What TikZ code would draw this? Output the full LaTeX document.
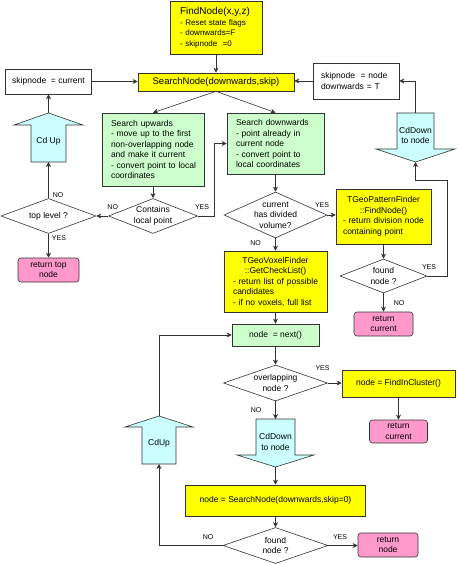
\documentclass[tikz,border=0pt]{standalone}
\usepackage{fontspec}
\setmainfont{Liberation Sans}
\usetikzlibrary{arrows.meta,shapes.geometric}
\definecolor{cyel}{HTML}{FFFF00}
\definecolor{cgrn}{HTML}{CCFFCC}
\definecolor{ccya}{HTML}{CCFFFF}
\definecolor{cpnk}{HTML}{FF99CC}
\definecolor{cline}{HTML}{333333}
\newcommand\myline[1]{\mbox{#1}}
\newcommand\mycline[1]{\makebox[\linewidth]{#1}}
\begin{document}
\begin{tikzpicture}[x=1pt,y=-1pt,
  every node/.style={font=\fontsize{8.5}{10.5}\selectfont},
  base/.style={draw=cline, line width=0.6pt, rectangle, inner sep=0pt, align=center},
  ybox/.style={base, fill=cyel},
  gbox/.style={base, fill=cgrn},
  pbox/.style={base, fill=cpnk, rounded corners=3pt},
  wbox/.style={base, fill=white},
  dia/.style={draw=cline, line width=0.6pt, fill=white, diamond, inner sep=0pt},
  arrshape/.style={draw=cline, line width=0.6pt, fill=ccya},
  lab/.style={font=\fontsize{7}{8}\selectfont, inner sep=0pt},
  txt/.style={inner sep=0pt, align=center},
  conn/.style={draw=cline, line width=0.6pt, -{Stealth[length=5pt,width=5pt,inset=1.5pt]}},
]
\useasboundingbox (0,0) rectangle (456,564);

% ---- boxes
\node[ybox, minimum width=92pt, minimum height=53pt, text width=72pt, align=left, font=\fontsize{8}{10.5}\selectfont] (find) at (216,27.5)
  {\myline{\fontsize{10}{10.5}\selectfont FindNode(x,y,z)}\\\myline{- Reset state flags}\\\myline{- downwards=F}\\\myline{- skipnode\ \ =0}};
\node[ybox, minimum width=156pt, minimum height=18pt, font=\fontsize{9.5}{11}\selectfont] (search) at (216,82) {SearchNode(downwards,skip)};
\node[wbox, minimum width=86pt, minimum height=25pt] (skipcur) at (48.5,81.5) {skipnode\ \ = current};
\node[wbox, minimum width=86pt, minimum height=36pt, text width=70pt, align=left] (skipnode) at (356,81) {\myline{skipnode\ \ = node}\\\myline{downwards = T}};
\node[gbox, minimum width=102pt, minimum height=73pt, text width=84pt, align=left] (up) at (153,149.5)
  {\myline{Search upwards}\\\myline{- move up to the first}\\\myline{non-overlapping node}\\\myline{and make it current}\\\myline{- convert point to local}\\\myline{coordinates}};
\node[gbox, minimum width=97pt, minimum height=61pt, text width=79pt, align=left] (down) at (275.5,143.5)
  {\myline{Search downwards}\\\myline{- point already in}\\\myline{current node}\\\myline{- convert point to}\\\myline{local coordinates}};
\node[pbox, minimum width=61pt, minimum height=24pt] (rettop) at (48.5,270) {return top\\node};
\node[ybox, minimum width=95pt, minimum height=55pt, text width=81pt, align=left] (pattern) at (383.5,216.5)
  {\mycline{TGeoPatternFinder}\\\mycline{::FindNode()}\\\myline{- return division node}\\\myline{containing point}};
\node[pbox, minimum width=59pt, minimum height=24pt] (retcurA) at (383.5,324) {return\\current};
\node[ybox, minimum width=103pt, minimum height=61pt, text width=85pt, align=left] (voxel) at (275.5,281.5)
  {\mycline{TGeoVoxelFinder}\\\mycline{::GetCheckList()}\\\myline{- return list of possible}\\\myline{candidates}\\\myline{- if no voxels, full list}};
\node[gbox, minimum width=87pt, minimum height=22pt] (next) at (275.5,335) {node\ \ = next()};
\node[ybox, minimum width=113pt, minimum height=27pt] (cluster) at (398.5,383.5) {node = FindInCluster()};
\node[pbox, minimum width=58pt, minimum height=23pt] (retcurB) at (398.5,431.5) {return\\current};
\node[ybox, minimum width=180pt, minimum height=31pt] (sn2) at (275.5,500.5) {node = SearchNode(downwards,skip=0)};
\node[pbox, minimum width=60pt, minimum height=24pt] (retnode) at (388,545) {return\\node};

% ---- diamonds
\node[dia, minimum width=89pt, minimum height=35pt] (contains) at (153,216) {};
\node[txt] (contains-t) at (contains.center) {Contains\\local point};
\node[dia, minimum width=95pt, minimum height=35pt] (toplevel) at (48.5,216) {};
\node[txt] (toplevel-t) at (toplevel.center) {top level ?};
\node[dia, minimum width=103pt, minimum height=46pt] (divided) at (275.5,215) {};
\node[txt] (divided-t) at (divided.center) {current\\has divided\\volume?};
\node[dia, minimum width=87pt, minimum height=34pt] (foundA) at (383.5,276) {};
\node[txt] (foundA-t) at (foundA.center) {found\\node ?};
\node[dia, minimum width=104pt, minimum height=36pt] (overlap) at (275.5,383) {};
\node[txt] (overlap-t) at (overlap.center) {overlapping\\node ?};
\node[dia, minimum width=105pt, minimum height=36pt] (foundB) at (275.5,545.5) {};
\node[txt] (foundB-t) at (foundB.center) {found\\node ?};

% ---- block arrows
\coordinate (cuA-tip) at (48.5,113); \coordinate (cuA-base) at (48.5,162);
\draw[arrshape] (cuA-tip) -- (83,125) -- (66,125) -- (66,162) -- (31,162) -- (31,125) -- (14,125) -- cycle;
\node[txt] (cuA-t) at (48.5,141.5) {Cd Up};

\coordinate (cdA-top) at (415.5,113); \coordinate (cdA-tip) at (415.5,162);
\draw[arrshape] (397,113) -- (434,113) -- (434,149) -- (455,149) -- (cdA-tip) -- (376,149) -- (397,149) -- cycle;
\node[txt] (cdA-t) at (415.5,135.5) {CdDown\\to node};

\coordinate (cdB-top) at (275.5,419); \coordinate (cdB-tip) at (275.5,467);
\draw[arrshape] (256,419) -- (295,419) -- (295,455) -- (314,455) -- (cdB-tip) -- (237,455) -- (256,455) -- cycle;
\node[txt] (cdB-t) at (275.5,442) {CdDown\\to node};

\coordinate (cuB-tip) at (159,416); \coordinate (cuB-base) at (159,464);
\draw[arrshape] (cuB-tip) -- (193,427) -- (176,427) -- (176,464) -- (142,464) -- (142,427) -- (125,427) -- cycle;
\node[txt] (cuB-t) at (159,443) {CdUp};

% ---- connectors
\draw[conn] (find.south) -- (search.north);
\draw[conn] (skipcur.east) -- (skipcur.east -| search.west);
\draw[conn] (skipnode.west) -- (skipnode.west -| search.east);
\draw[conn] (search.south) -- (up.north);
\draw[conn] (search.south) -- (down.north);
\draw[conn] (up.south) -- (contains.north);
\draw[conn] (contains.west) -- (toplevel.east);
\draw[conn] (contains.east) -- ++(16,0) |- (down.west);
\draw[conn] (toplevel.north) -- (cuA-base);
\draw[conn] (cuA-tip) -- (skipcur.south);
\draw[conn] (toplevel.south) -- (rettop.north);
\draw[conn] (down.south) -- (divided.north);
\draw[conn] (divided.east) -- (divided.east -| pattern.west);
\draw[conn] (divided.south) -- (voxel.north);
\draw[conn] (pattern.south) -- (foundA.north);
\draw[conn] (foundA.south) -- (retcurA.north);
\coordinate (rA) at (447,180);
\draw[conn] (foundA.east) -| (rA) -- (rA -| cdA-tip) -- (cdA-tip);
\draw[conn] (cdA-top) |- (skipnode.east);
\draw[conn] (voxel.south) -- (next.north);
\draw[conn] (next.south) -- (overlap.north);
\draw[conn] (overlap.east) -- (overlap.east -| cluster.west);
\draw[conn] (cluster.south) -- (retcurB.north);
\draw[conn] (overlap.south) -- (cdB-top);
\draw[conn] (cdB-tip) -- (sn2.north);
\draw[conn] (sn2.south) -- (foundB.north);
\draw[conn] (foundB.east) -- (foundB.east -| retnode.west);
\draw[conn] (foundB.west) -| (cuB-base);
\draw[conn] (cuB-tip) |- (next.west);

% ---- labels
\node[lab] (l1) at (112.7,206.7) {NO};
\node[lab] (l2) at (202,206.7) {YES};
\node[lab] (l3) at (58,195) {NO};
\node[lab] (l4) at (59,238) {YES};
\node[lab] (l5) at (322,205) {YES};
\node[lab] (l6) at (255.5,242.7) {NO};
\node[lab] (l7) at (429,267) {YES};
\node[lab] (l8) at (399,303) {NO};
\node[lab] (l9) at (322.5,368) {YES};
\node[lab] (l10) at (256,410) {NO};
\node[lab] (l11) at (208,537) {NO};
\node[lab] (l12) at (340,537) {YES};
\end{tikzpicture}
\end{document}
